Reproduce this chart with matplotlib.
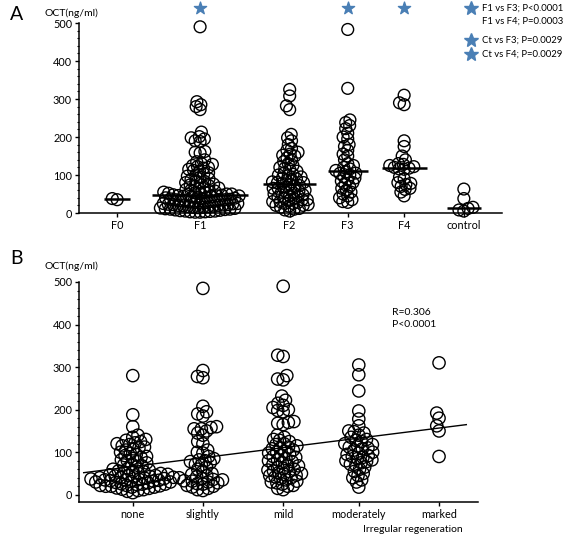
import numpy as np
import matplotlib
matplotlib.use("Agg")
import matplotlib.pyplot as plt

plt.rcParams["font.family"] = ["Lato", "DejaVu Sans"]

W, H = 569, 538

# ---- panel A: OCT by fibrosis stage ----
stages = ["F0", "F1", "F2", "F3", "F4", "control"]
stage_pos = [0.46, 1.46, 2.54, 3.24, 3.92, 4.64]

oct_f0 = [38, 35]
oct_f1 = [490, 293, 285, 280, 272,
          213, 201, 198, 195, 190, 188, 162, 160, 158,
          140, 135, 130, 128, 125, 122, 120, 118, 115, 112, 110, 106, 103, 100,
          97, 94, 90, 88, 85, 83, 80, 78, 76, 74, 72, 70, 68, 66, 64, 62, 60,
          58, 56, 55, 54, 53, 52, 51, 50, 50, 49, 48, 47,
          46, 45, 45, 44, 43, 42, 41, 40, 40, 39, 38, 37, 36, 35, 35, 34, 33, 32, 31, 30,
          29, 28, 27, 26, 25, 25, 24, 23, 22, 22, 21, 20, 20, 19, 18, 17, 16, 15, 15, 14,
          13, 12, 11, 10, 10, 9, 8, 7, 6, 5, 5, 4, 3, 3, 2, 2]
oct_f2 = [325, 308, 282, 272,
          207, 198, 190, 180, 170, 165, 160, 155, 152, 150, 145, 140, 135, 130, 125, 120, 118, 115,
          110, 105, 102, 100, 98, 95, 92, 90, 88, 85, 82, 80, 80, 78, 75, 72, 70, 68, 65, 65, 62, 60,
          58, 55, 55, 52, 50, 48, 45, 45, 42, 40, 38, 35, 35, 32, 30, 30, 28, 25, 25, 22, 20, 20, 18,
          15, 12, 10, 8, 5]
oct_f3 = [483, 328, 245, 238, 230, 222, 210, 200, 195, 180, 175, 165, 155, 150, 140, 130, 125,
          120, 116, 112, 108, 105, 104, 100, 96, 92, 88, 84, 80, 75, 70, 65, 60, 55,
          50, 45, 40, 35, 30, 28]
oct_f4 = [310, 290, 285, 190, 175, 150, 140, 130, 128, 125, 122, 120, 118, 116, 115, 95, 90, 80,
          78, 75, 70, 65, 62, 55, 45]
oct_ctrl = [63, 38, 15, 12, 8, 5]
groups_a = [oct_f0, oct_f1, oct_f2, oct_f3, oct_f4, oct_ctrl]
starred = ["F1", "F3", "F4"]

legend_lines = ["F1 vs F3; P<0.0001", "F1 vs F4; P=0.0003",
                "Ct vs F3; P=0.0029", "Ct vs F4; P=0.0029"]
legend_star = [True, False, True, True]

# ---- panel B: OCT by irregular regeneration ----
regen = ["none", "slightly", "mild", "moderately", "marked"]
regen_pos = [0.69, 1.59, 2.62, 3.59, 4.62]

oct_none = [280, 188, 160, 140, 135, 130, 128, 125, 122, 120, 118, 115, 112, 110, 108, 105, 100,
            97, 95, 92, 90, 88, 85, 82, 80, 78, 75, 72, 70, 68, 65, 62, 60, 58, 56, 55, 54, 52, 50,
            50, 48, 47, 46, 45, 44, 43, 42, 41, 40, 40, 39, 38, 37, 36, 35, 35, 34, 33, 32, 31, 30,
            30, 29, 28, 26, 25, 25, 24, 22, 22, 21, 20, 20, 18, 18, 16, 15, 13, 12, 10, 8, 5]
oct_slightly = [485, 292, 278, 275, 208, 195, 190, 185, 160, 158, 155, 155, 150, 145, 140, 125,
                120, 105, 100, 98, 90, 85, 82, 80, 78, 75, 72, 70, 65, 60, 55, 50, 48, 45, 42, 40,
                38, 36, 35, 33, 32, 30, 28, 26, 25, 22, 20, 18, 15, 12, 10]
oct_mild = [490, 328, 325, 280, 272, 270, 232, 222, 215, 210, 205, 200, 198, 195, 172, 170, 168,
            165, 140, 135, 130, 128, 125, 120, 118, 115, 112, 110, 108, 105, 102, 100, 98, 95, 92,
            90, 88, 85, 82, 80, 78, 75, 72, 70, 68, 65, 62, 60, 58, 56, 55, 52, 50, 48, 46, 45, 42,
            40, 38, 35, 32, 30, 28, 25, 22, 20, 15, 12]
oct_moderately = [305, 282, 244, 197, 178, 162, 150, 148, 145, 140, 135, 130, 128, 125, 120, 118,
                  115, 112, 110, 108, 105, 100, 98, 95, 92, 90, 88, 85, 82, 80, 78, 75, 72, 70, 65,
                  60, 55, 50, 45, 40, 35, 30, 18]
oct_marked = [310, 192, 180, 162, 150, 90]
groups_b = [oct_none, oct_slightly, oct_mild, oct_moderately, oct_marked]

fit_intercept = 50.5
fit_slope = 23.0
fit_span = [0.06, 4.97]
stats_text = "R=0.306\nP<0.0001"

star_color = "#4a7fb5"


def fx(x):
    return x / W


def fy(y):
    return 1 - y / H


def swarm(ax, x0, values, d):
    # simple beeswarm in pixel space, returns x positions in data units
    vals = np.asarray(values, float)
    pts = ax.transData.transform(np.column_stack([np.full(len(vals), x0), vals]))
    cx, ys = pts[0, 0], pts[:, 1]
    offs = np.zeros(len(vals))
    placed = []
    for i in np.argsort(vals):
        y = ys[i]
        near = [(px, py) for px, py in placed if abs(py - y) < d]
        cands = [0.0]
        for px, py in near:
            dx = np.sqrt(d * d - (py - y) ** 2)
            cands += [px - dx, px + dx]
        cands.sort(key=abs)
        for c in cands:
            if all((c - px) ** 2 + (y - py) ** 2 >= d * d - 1e-6 for px, py in near):
                break
        offs[i] = c
        placed.append((c, y))
    xs = ax.transData.inverted().transform(np.column_stack([cx + offs, ys]))[:, 0]
    return xs, offs


def style_axis(ax):
    for s in ["top", "right"]:
        ax.spines[s].set_visible(False)
    for s in ["left", "bottom"]:
        ax.spines[s].set_linewidth(1.1)
    ax.set_yticks(np.arange(0, 501, 100))
    ax.set_yticks(np.arange(0, 501, 20), minor=True)
    ax.tick_params(axis="both", which="major", length=3, width=1, labelsize=7.8, pad=2)
    ax.tick_params(axis="y", which="minor", length=1.8, width=0.8)
    ax.tick_params(axis="x", which="minor", length=0)


fig = plt.figure(figsize=(W / 100, H / 100), dpi=100)

# panel A
axA = fig.add_axes([fx(79), fy(213), (502 - 79) / W, (213 - 23) / H])
axA.set_xlim(0, 5.1)
axA.set_ylim(0, 500)
style_axis(axA)
axA.set_xticks(stage_pos)
axA.set_xticklabels(stages)

for pos, vals in zip(stage_pos, groups_a):
    xs, offs = swarm(axA, pos, vals, 5.0)
    axA.scatter(xs, vals, s=72, facecolors="none", edgecolors="black", linewidths=1.0,
                clip_on=False, zorder=3)
    half = max(np.abs(offs).max() + 8, 11)
    x_left = axA.transData.inverted().transform(
        axA.transData.transform((pos, 0)) - (half, 0))[0]
    x_right = 2 * pos - x_left
    axA.hlines(np.median(vals), x_left, x_right, color="black", lw=1.8, zorder=4)

for name in starred:
    axA.scatter([stage_pos[stages.index(name)]], [540], marker="*", s=85, color=star_color,
                clip_on=False, zorder=5)

fig.text(fx(10), fy(15), "A", fontsize=14, va="center", ha="left")
fig.text(fx(71), fy(13), "OCT(ng/ml)", fontsize=7.5, va="center", ha="center")

leg_y = [8, 21, 40, 54]
for txt, has_star, y in zip(legend_lines, legend_star, leg_y):
    if has_star:
        fig.add_artist(plt.Line2D([fx(471)], [fy(y)], marker="*", markersize=10,
                                  color=star_color, linestyle="none"))
    fig.text(fx(482), fy(y), txt, fontsize=6.8, va="center", ha="left")

# panel B
axB = fig.add_axes([fx(79), fy(502), (478 - 79) / W, (502 - 282) / H])
axB.set_xlim(0, 5.12)
axB.set_ylim(-17, 500)
style_axis(axB)
axB.set_xticks(regen_pos)
axB.set_xticklabels(regen)

for pos, vals in zip(regen_pos, groups_b):
    xs, offs = swarm(axB, pos, vals, 5.6)
    axB.scatter(xs, vals, s=78, facecolors="none", edgecolors="black", linewidths=1.0,
                clip_on=False, zorder=3)

fit_x = np.array(fit_span)
axB.plot(fit_x, fit_intercept + fit_slope * fit_x, color="black", lw=1.0, zorder=4)

axB.text(0.785, 0.88, stats_text, transform=axB.transAxes, fontsize=7.5, va="top",
         ha="left", linespacing=1.4)

fig.text(fx(10), fy(258), "B", fontsize=14, va="center", ha="left")
fig.text(fx(71), fy(266), "OCT(ng/ml)", fontsize=7.5, va="center", ha="center")
fig.text(fx(413), fy(529), "Irregular regeneration", fontsize=7.5, va="center", ha="center")

fig.savefig("out.png", dpi=100)
